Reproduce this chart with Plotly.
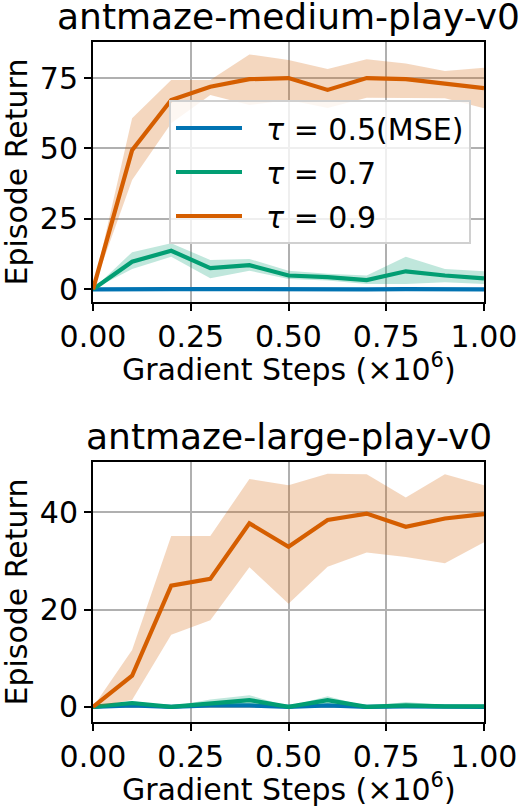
import plotly.graph_objects as go

steps = [0.0, 0.1, 0.2, 0.3, 0.4, 0.5, 0.6, 0.7, 0.8, 0.9, 1.0]
labels = ["\u00a0\u00a0<i>τ</i> = 0.5(MSE)", "\u00a0\u00a0<i>τ</i> = 0.7", "\u00a0\u00a0<i>τ</i> = 0.9"]
colors = ["#0173B2", "#029E73", "#D55E00"]
bands = ["rgba(1,115,178,0.25)", "rgba(2,158,115,0.25)", "rgba(213,94,0,0.25)"]

# antmaze-medium-play-v0
med_mse = [0.0, 0.2, 0.1, 0.1, 0.0, 0.0, 0.0, 0.0, 0.1, 0.0, 0.0]
med_mse_lo = [0.0, 0.0, 0.0, 0.0, 0.0, 0.0, 0.0, 0.0, 0.0, 0.0, 0.0]
med_mse_hi = [0.0, 0.5, 0.3, 0.3, 0.1, 0.1, 0.1, 0.1, 0.3, 0.1, 0.1]
med_07 = [0.0, 9.8, 13.7, 7.5, 8.6, 4.9, 4.3, 3.3, 6.4, 4.9, 3.9]
med_07_lo = [0.0, 7.2, 11.6, 3.9, 6.6, 3.7, 3.1, 1.9, 1.9, 2.5, 1.9]
med_07_hi = [0.0, 13.2, 16.4, 10.4, 10.8, 6.6, 5.5, 4.9, 11.6, 7.2, 6.4]
med_09 = [0.0, 49.4, 67.2, 71.9, 74.6, 75.0, 70.8, 75.0, 74.6, 72.9, 71.4]
med_09_lo = [0.0, 38.8, 59.0, 69.0, 65.4, 67.2, 64.4, 68.0, 67.8, 67.8, 64.3]
med_09_hi = [0.0, 60.7, 74.3, 74.3, 83.4, 81.4, 78.2, 81.7, 80.2, 77.5, 78.7]

# antmaze-large-play-v0
lg_mse = [0.0, 0.3, 0.0, 0.3, 0.3, 0.0, 0.3, 0.0, 0.1, 0.0, 0.0]
lg_mse_lo = [0.0, 0.0, 0.0, 0.0, 0.0, 0.0, 0.0, 0.0, 0.0, 0.0, 0.0]
lg_mse_hi = [0.0, 0.6, 0.1, 0.6, 0.6, 0.1, 0.6, 0.1, 0.3, 0.1, 0.1]
lg_07 = [0.0, 0.8, 0.0, 0.7, 1.4, 0.0, 1.4, 0.0, 0.3, 0.1, 0.1]
lg_07_lo = [0.0, 0.3, 0.0, 0.2, 0.5, 0.0, 0.6, 0.0, 0.0, 0.0, 0.0]
lg_07_hi = [0.0, 1.2, 0.1, 1.5, 2.4, 0.1, 2.2, 0.1, 1.0, 0.4, 0.3]
lg_09 = [0.0, 6.4, 24.9, 26.3, 37.7, 32.9, 38.4, 39.7, 37.0, 38.7, 39.6]
lg_09_lo = [0.0, 1.4, 14.8, 17.8, 28.7, 21.2, 28.8, 31.7, 30.8, 29.5, 33.8]
lg_09_hi = [0.0, 11.7, 35.1, 35.1, 46.8, 45.5, 47.9, 47.8, 43.0, 47.8, 45.5]

xticks = [0.0, 0.25, 0.5, 0.75, 1.0]
xticklabels = ["0.00", "0.25", "0.50", "0.75", "1.00"]
yticks_med = [0, 25, 50, 75]
yticks_lg = [0, 20, 40]
titles = ["antmaze-medium-play-v0", "antmaze-large-play-v0"]

FONT = "DejaVu Sans"
W, H = 523, 807
ML, MR, MT, MB = 93, 39, 42, 85
plot_h = H - MT - MB
top_dom = [(722 - 302) / plot_h, 1.0]
bot_dom = [0.0, (722 - 462) / plot_h]

fig = go.Figure()

panels = [
    ("x", "y", [(med_mse, med_mse_lo, med_mse_hi), (med_07, med_07_lo, med_07_hi), (med_09, med_09_lo, med_09_hi)], True),
    ("x2", "y2", [(lg_mse, lg_mse_lo, lg_mse_hi), (lg_07, lg_07_lo, lg_07_hi), (lg_09, lg_09_lo, lg_09_hi)], False),
]
for xa, ya, series, show in panels:
    for i, (m, lo, hi) in enumerate(series):
        fig.add_trace(go.Scatter(
            x=steps + steps[::-1], y=hi + lo[::-1], fill="toself",
            fillcolor=bands[i], line=dict(width=0), mode="lines",
            hoverinfo="skip", showlegend=False, xaxis=xa, yaxis=ya))
        fig.add_trace(go.Scatter(
            x=steps, y=m, mode="lines", name=labels[i],
            line=dict(color=colors[i], width=4.2),
            showlegend=show, legendgroup=f"g{i}", xaxis=xa, yaxis=ya))

axis_common = dict(
    showline=True, linecolor="black", linewidth=2, mirror=True,
    showgrid=True, gridcolor="#b0b0b0", gridwidth=2,
    ticks="outside", ticklen=7, tickwidth=2, tickcolor="black",
    tickfont=dict(family=FONT, size=30, color="black"),
    zeroline=False,
)

fig.update_layout(
    width=W, height=H,
    margin=dict(l=ML, r=MR, t=MT, b=MB, autoexpand=False),
    paper_bgcolor="white", plot_bgcolor="white",
    font=dict(family=FONT, size=30, color="black"),
    xaxis=dict(axis_common, domain=[0, 1], range=[0, 1], anchor="y",
               tickvals=xticks, ticktext=xticklabels),
    yaxis=dict(axis_common, domain=top_dom, range=[-4.5, 87.8], anchor="x",
               tickvals=yticks_med),
    xaxis2=dict(axis_common, domain=[0, 1], range=[0, 1], anchor="y2",
                tickvals=xticks, ticktext=xticklabels),
    yaxis2=dict(axis_common, domain=bot_dom, range=[-3.1, 50.3], anchor="x2",
                tickvals=yticks_lg),
    legend=dict(
        x=(169 - ML) / (W - ML - MR), y=(722 - 100) / plot_h,
        xanchor="left", yanchor="top",
        bgcolor="rgba(255,255,255,0.8)", bordercolor="#d0d0d0", borderwidth=2,
        font=dict(family=FONT, size=30, color="black"),
        itemwidth=66, tracegroupgap=2, traceorder="grouped",
    ),
    showlegend=True,
)

ann = []
for dom, title in [(top_dom, titles[0]), (bot_dom, titles[1])]:
    ann.append(dict(text=title, x=0.5, y=dom[1], xref="paper", yref="paper",
                    xanchor="center", yanchor="bottom", yshift=3, showarrow=False,
                    font=dict(family=FONT, size=36, color="black")))
    ann.append(dict(text="Gradient Steps (×10<sup>6</sup>)", x=0.5, y=dom[0],
                    xref="paper", yref="paper", xanchor="center", yanchor="middle",
                    yshift=-65, showarrow=False,
                    font=dict(family=FONT, size=30, color="black")))
    ann.append(dict(text="Episode Return", x=(15.5 - ML) / (W - ML - MR),
                    y=(dom[0] + dom[1]) / 2, xref="paper", yref="paper",
                    xanchor="center", yanchor="middle", textangle=-90,
                    showarrow=False, font=dict(family=FONT, size=30, color="black")))
fig.update_layout(annotations=ann)

fig.write_html("out.html")
